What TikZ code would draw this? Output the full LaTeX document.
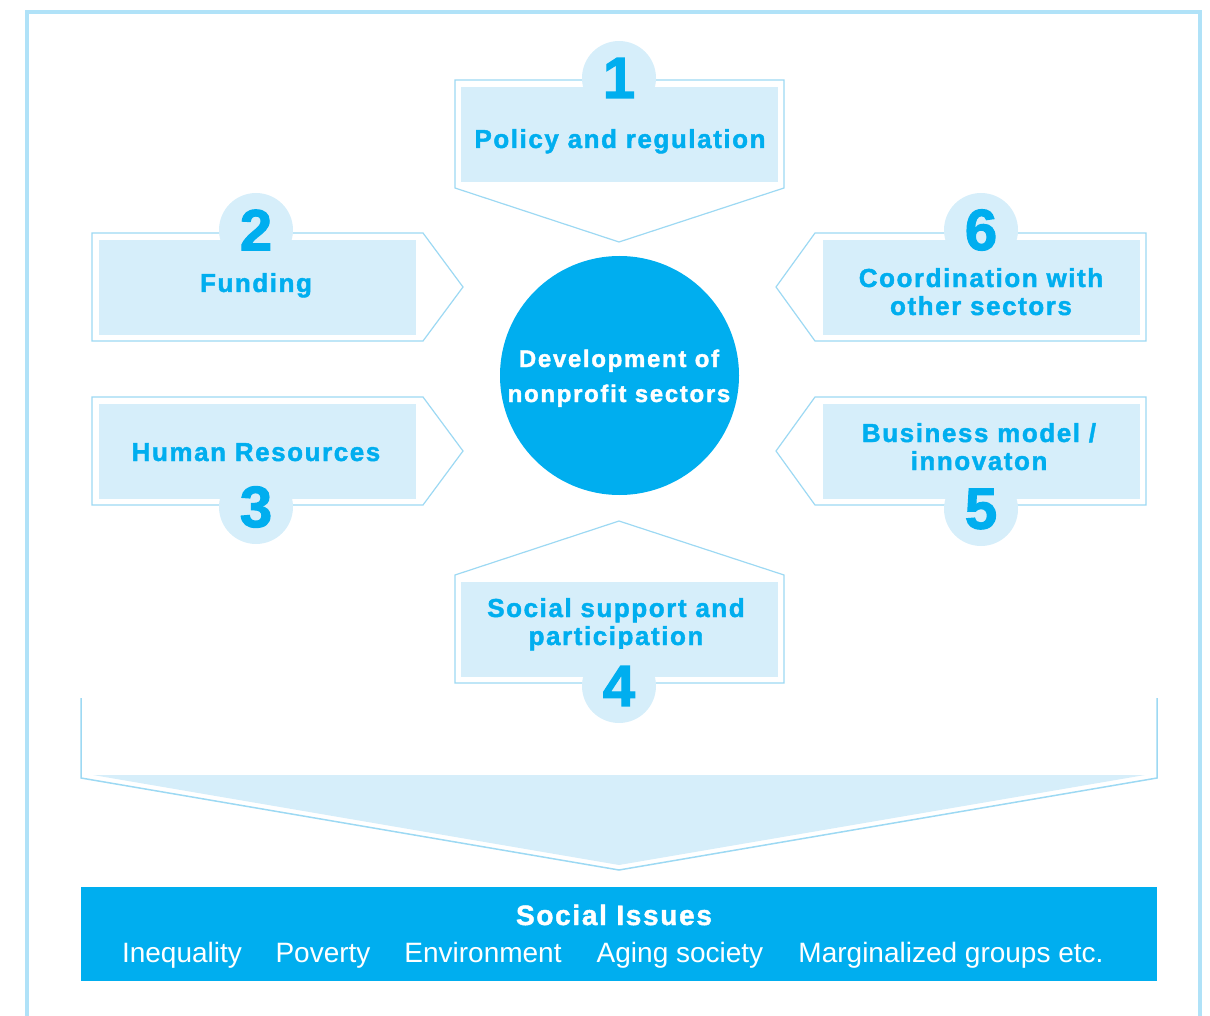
\documentclass[tikz,border=0pt]{standalone}
\usepackage{fontspec}
\setmainfont{Liberation Sans}
\newfontfamily\boxfont{Liberation Sans}[LetterSpace=6, BoldFeatures={FakeBold=1.6}]
\newfontfamily\hubfont{Liberation Sans}[LetterSpace=7, BoldFeatures={FakeBold=1.6}]
\newfontfamily\digitfont{Liberation Sans}[BoldFeatures={FakeBold=2}]
\usepackage{tikz}
\usetikzlibrary{positioning}
\definecolor{skyblue}{RGB}{0,174,239}
\definecolor{paleblue}{RGB}{214,238,250}
\definecolor{lineblue}{RGB}{157,217,243}
\definecolor{frameblue}{RGB}{176,226,248}

\begin{document}
\begin{tikzpicture}[x=1pt, y=-1pt,
    panel/.style={rectangle, fill=paleblue, minimum width=317pt, minimum height=95pt, inner sep=0pt},
    frameline/.style={draw=lineblue, line width=1.2pt, fill=white},
    badge/.style={circle, fill=paleblue, minimum size=74pt, inner sep=0pt, text=skyblue, font=\digitfont\fontsize{58}{58}\selectfont\bfseries},
    boxtext/.style={text=skyblue, align=center, anchor=base, font=\boxfont\fontsize{26}{28}\selectfont\bfseries},
    hub/.style={circle, fill=skyblue, minimum size=239pt, inner sep=0pt},
    hubtext/.style={text=white, align=center, anchor=base, font=\hubfont\fontsize{24}{35}\selectfont\bfseries},
    issue/.style={text=white, anchor=base, font=\fontsize{28}{28}\selectfont}
]
\useasboundingbox (0,0) rectangle (1210,1016);

% Outer frame
\draw[frameblue, line width=4pt] (27,1016) -- (27,12) -- (1200,12) -- (1200,1016);

% Arrow shapes round the hub
\draw[frameline] (455,80) -- (784,80) -- (784,188) -- (619,242) -- (455,188) -- cycle;
\draw[frameline] (92,233) -- (423,233) -- (463,287) -- (423,341) -- (92,341) -- cycle;
\draw[frameline] (1146,233) -- (815,233) -- (776,287) -- (815,341) -- (1146,341) -- cycle;
\draw[frameline] (92,397) -- (423,397) -- (463,451) -- (423,505) -- (92,505) -- cycle;
\draw[frameline] (1146,397) -- (815,397) -- (776,451) -- (815,505) -- (1146,505) -- cycle;
\draw[frameline] (455,683) -- (784,683) -- (784,575) -- (619,521) -- (455,575) -- cycle;

% Panels
\node[panel] at (619.5,134.5) (policybox) {};
\node[panel] at (257,287.5) (fundbox) {};
\node[panel] at (981.5,287.5) (coordbox) {};
\node[panel] at (257,451.5) (humanbox) {};
\node[panel] at (981.5,451.5) (bizbox) {};
\node[panel] at (619.5,629) (socialbox) {};

% Panel texts (base = last line)
\node[boxtext] at (620,148) (policy) {Policy and regulation};
\node[boxtext] at (256,292) (fund) {Funding};
\node[boxtext] at (981,315) (coord) {Coordination with\\other sectors};
\node[boxtext] at (256,461) (human) {Human Resources};
\node[boxtext] at (979,470) (biz) {Business model /\\innovaton};
\node[boxtext] at (616,645) (social) {Social support and\\participation};

% Numbers
\node[badge] at (619,78) (n1) {1};
\node[badge] at (256,230) (n2) {2};
\node[badge] at (256,507) (n3) {3};
\node[badge] at (619,686) (n4) {4};
\node[badge] at (981,509) (n5) {5};
\node[badge] at (981,230) (n6) {6};

% Hub
\node[hub] at (619.5,375.5) (hub) {};
\node[hubtext] at (619,402) (hubtitle) {Development of\\nonprofit sectors};

% Funnel
\fill[paleblue] (93,775) -- (1145,775) -- (619,865) -- cycle;
\draw[lineblue, line width=1.5pt] (81,698) -- (81,778) -- (619,870) -- (1157,778) -- (1157,698);

% Social issues
\node[rectangle, fill=skyblue, minimum width=1076pt, minimum height=94pt, inner sep=0pt] at (619,934) (issuebox) {};
\node[text=white, anchor=base, font=\boxfont\fontsize{28}{28}\selectfont\bfseries] at (614,925) (issuetitle) {Social Issues};
\node[issue] at (182,962) (inequality) {Inequality};
\node[issue] at (323,962) (poverty) {Poverty};
\node[issue] at (483,962) (environment) {Environment};
\node[issue] at (680,962) (aging) {Aging society};
\node[issue] at (951,962) (marginal) {Marginalized groups etc.};

\end{tikzpicture}
\end{document}
